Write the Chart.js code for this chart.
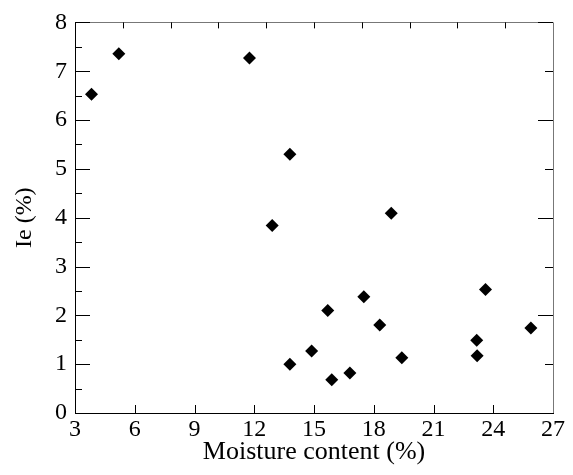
<!DOCTYPE html>
<html>
<head>
<meta charset="utf-8">
<script src="https://cdn.jsdelivr.net/npm/chart.js@4"></script>
<style>
  html, body { margin:0; padding:0; background:#fff; }
</style>
</head>
<body>
<canvas id="chart" width="573" height="475"></canvas>
<script>
// values
const moisture = [3.83, 5.20, 11.76, 13.79, 12.90, 18.88, 17.50, 13.79, 14.88, 15.69, 15.89, 16.80, 18.30, 19.41, 23.17, 23.19, 23.61, 25.89];
const ie       = [6.53, 7.36, 7.27, 5.30, 3.84, 4.09, 2.38, 1.00, 1.27, 2.10, 0.68, 0.82, 1.80, 1.13, 1.49, 1.17, 2.53, 1.74];
const xTicks = [3, 6, 9, 12, 15, 18, 21, 24, 27];
const yTicks = [0, 1, 2, 3, 4, 5, 6, 7, 8];
const topDivs = [0, 1, 2, 3, 4, 5, 6, 7, 8, 9, 10];

const serif = 'Liberation Serif';

// inward tick marks + grey top/right frame
const frameTicks = {
  id: 'frameTicks',
  afterDraw(chart){
    const { ctx, chartArea:a, scales:{ x, y, top } } = chart;
    const px = v => Math.round(v) + 0.5;
    ctx.save();
    ctx.lineWidth = 1;
    ctx.strokeStyle = '#777';
    ctx.beginPath();
    ctx.moveTo(a.left, px(a.top)); ctx.lineTo(a.right, px(a.top));
    ctx.moveTo(px(a.right), a.top); ctx.lineTo(px(a.right), a.bottom);
    ctx.stroke();

    ctx.strokeStyle = '#000';
    ctx.beginPath();
    yTicks.forEach(v => {
      const yy = px(y.getPixelForValue(v));
      ctx.moveTo(a.left, yy); ctx.lineTo(a.left + 15, yy);
      ctx.moveTo(a.right, yy); ctx.lineTo(a.right - (v % 2 === 0 ? 15 : 8), yy);
      if (v < 8) {
        const yh = px(y.getPixelForValue(v + 0.5));
        ctx.moveTo(a.left, yh); ctx.lineTo(a.left + 7, yh);
      }
    });
    xTicks.slice(1, -1).forEach(v => {
      const xx = px(x.getPixelForValue(v));
      ctx.moveTo(xx, a.bottom); ctx.lineTo(xx, a.bottom - 8);
    });
    topDivs.slice(1, -1).forEach(v => {
      const xx = px(top.getPixelForValue(v));
      ctx.moveTo(xx, a.top); ctx.lineTo(xx, a.top + 6);
    });
    ctx.stroke();
    ctx.restore();
  }
};

new Chart(document.getElementById('chart').getContext('2d'), {
  type: 'scatter',
  data: {
    datasets: [{
      data: moisture.map((m, i) => ({ x: m, y: ie[i] })),
      pointStyle: 'rectRot',
      pointRadius: 6.5,
      backgroundColor: '#000',
      borderColor: '#000',
      borderWidth: 0
    }]
  },
  options: {
    responsive: false,
    animation: false,
    devicePixelRatio: 1,
    layout: { padding: { top: 19, right: 20, left: 0, bottom: 0 } },
    plugins: { legend: { display: false }, tooltip: { enabled: false } },
    scales: {
      x: {
        type: 'linear', min: 3, max: 27,
        afterBuildTicks: s => { s.ticks = xTicks.map(v => ({ value: v })); },
        afterFit: s => { s.height = 62; },
        grid: { display: false, drawTicks: false },
        border: { color: '#000', width: 1 },
        ticks: { color: '#000', padding: 2, maxRotation: 0, font: { family: serif, size: 24 } },
        title: { display: true, text: 'Moisture content (%)', color: '#000', padding: { top: 0, bottom: 7 }, font: { family: serif, size: 26 } }
      },
      y: {
        type: 'linear', min: 0, max: 8,
        afterBuildTicks: s => { s.ticks = yTicks.map(v => ({ value: v })); },
        afterFit: s => { s.width = 75; },
        grid: { display: false, drawTicks: false },
        border: { color: '#000', width: 1 },
        ticks: { color: '#000', padding: 8, font: { family: serif, size: 24 } },
        title: { display: true, text: 'Ie (%)', color: '#000', padding: { top: 10, bottom: 0 }, font: { family: serif, size: 24 } }
      },
      top: {
        type: 'linear', axis: 'x', position: 'top', min: 0, max: 10, display: false
      }
    }
  },
  plugins: [frameTicks]
});
</script>
</body>
</html>
